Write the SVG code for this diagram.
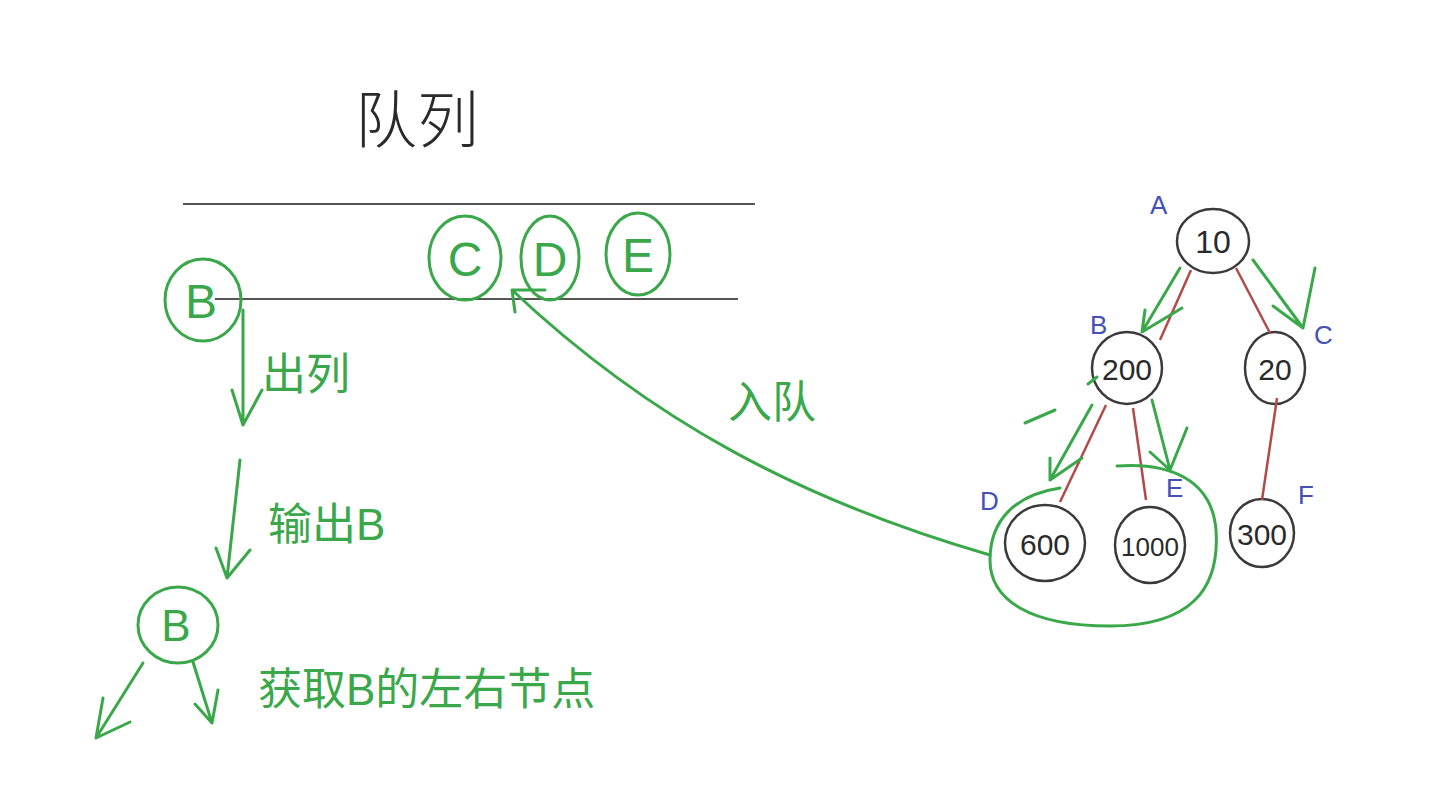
<svg xmlns="http://www.w3.org/2000/svg" width="1435" height="811" viewBox="0 0 1435 811">
<style>
.g{stroke:#3aa84a;stroke-width:3;fill:none;stroke-linecap:round;stroke-linejoin:round}
.k{stroke:#3a3a3a;stroke-width:2.5;fill:none}
.r{stroke:#b24a4a;stroke-width:2.5;fill:none}
.rule{stroke:#555;stroke-width:2}
.gt{fill:#3aa84a;font-family:"Liberation Sans","Noto Sans CJK SC",sans-serif}
.kt{fill:#2a2a2a;font-family:"Liberation Sans","Noto Sans CJK SC",sans-serif}
.bt{fill:#4450b8;font-family:"Liberation Sans",sans-serif;font-size:26px}
</style>
<rect width="1435" height="811" fill="#ffffff"/>
<g id="title"><text class="kt" x="355" y="143" font-size="62" font-family="'Noto Sans CJK SC',sans-serif" style="font-family:'Noto Sans CJK SC',sans-serif;font-weight:300">队列</text></g>
<g id="queue">
<line class="rule" x1="183" y1="204" x2="755" y2="204"/>
<line class="rule" x1="215" y1="299" x2="738" y2="299"/>
</g>
<g id="qC"><ellipse class="g" cx="465" cy="258" rx="36" ry="42"/><text class="gt" x="465" y="276" font-size="48" text-anchor="middle">C</text></g>
<g id="qD"><ellipse class="g" cx="550" cy="258" rx="29" ry="42"/><text class="gt" x="550" y="276" font-size="48" text-anchor="middle">D</text></g>
<g id="qE"><ellipse class="g" cx="638" cy="254" rx="32" ry="41"/><text class="gt" x="638" y="272" font-size="48" text-anchor="middle">E</text></g>
<g id="bTop"><ellipse class="g" cx="203" cy="300" rx="38" ry="41"/><text class="gt" x="201" y="318" font-size="48" text-anchor="middle">B</text></g>
<g id="step1"><text class="gt" x="262" y="390" font-size="44">出列</text></g>
<g id="step2"><text class="gt" x="268" y="540" font-size="44">输出B</text></g>
<g id="bBottom"><ellipse class="g" cx="178" cy="625" rx="40" ry="38"/><text class="gt" x="176" y="641" font-size="44" text-anchor="middle">B</text></g>
<g id="step3"><text class="gt" x="258" y="705" font-size="44">获取B的左右节点</text></g>
<g id="enqLabel"><text class="gt" x="728" y="418" font-size="44">入队</text></g>
<g id="treeA"><ellipse class="k" cx="1213" cy="241" rx="36" ry="32"/><text class="kt" x="1213" y="253" font-size="32" text-anchor="middle">10</text><text class="bt" x="1150" y="214">A</text></g>
<g id="treeB"><ellipse class="k" cx="1127" cy="368" rx="35" ry="36"/><text class="kt" x="1127" y="380" font-size="30" text-anchor="middle">200</text><text class="bt" x="1090" y="334">B</text></g>
<g id="treeC"><ellipse class="k" cx="1275" cy="368" rx="30" ry="36"/><text class="kt" x="1275" y="380" font-size="30" text-anchor="middle">20</text><text class="bt" x="1314" y="344">C</text></g>
<g id="treeD"><ellipse class="k" cx="1045" cy="543" rx="40" ry="38"/><text class="kt" x="1045" y="555" font-size="30" text-anchor="middle">600</text><text class="bt" x="980" y="510">D</text></g>
<g id="treeE"><ellipse class="k" cx="1150" cy="545" rx="35" ry="38"/><text class="kt" x="1150" y="556" font-size="26" text-anchor="middle">1000</text><text class="bt" x="1166" y="497">E</text></g>
<g id="treeF"><ellipse class="k" cx="1262" cy="533" rx="32" ry="34"/><text class="kt" x="1262" y="545" font-size="30" text-anchor="middle">300</text><text class="bt" x="1298" y="504">F</text></g>
<g id="connectors">
<line class="r" x1="1191" y1="270" x2="1160" y2="340"/>
<line class="r" x1="1236" y1="268" x2="1270" y2="333"/>
<line class="r" x1="1106" y1="405" x2="1060" y2="502"/>
<line class="r" x1="1133" y1="408" x2="1146" y2="500"/>
<line class="r" x1="1277" y1="398" x2="1262" y2="500"/>
<path class="g" d="M1180 268 L1142 332 M1142 332 L1145 310 M1142 332 L1182 308"/>
<path class="g" d="M1253 260 L1303 328 M1303 328 L1315 268 M1303 328 L1273 306"/>
<path class="g" d="M1092 405 L1050 480 M1050 480 L1050 458 M1050 480 L1082 458"/>
<path class="g" d="M1152 400 L1170 470 M1170 470 L1187 428 M1170 470 L1150 452"/>
<path class="g" stroke-width="1.5" d="M1025 423 L1055 410 M1088 384 L1097 377"/>
<path class="g" d="M1117 466 C1170 462 1212 480 1216 530 C1220 590 1190 626 1110 626 C1030 626 990 600 990 560 C990 520 1015 495 1060 488"/>
<path class="g" d="M990 555 C800 500 650 420 512 290 M512 290 L515 312 M512 290 L545 290"/>
<path class="g" d="M243 310 L243 425 M243 425 L232 390 M243 425 L262 390"/>
<path class="g" d="M240 460 L227 578 M227 578 L216 548 M227 578 L250 550"/>
<path class="g" d="M143 663 L96 738 M96 738 L103 698 M96 738 L130 722"/>
<path class="g" d="M193 662 L212 723 M212 723 L195 704 M212 723 L218 690"/>
</g>
</svg>
